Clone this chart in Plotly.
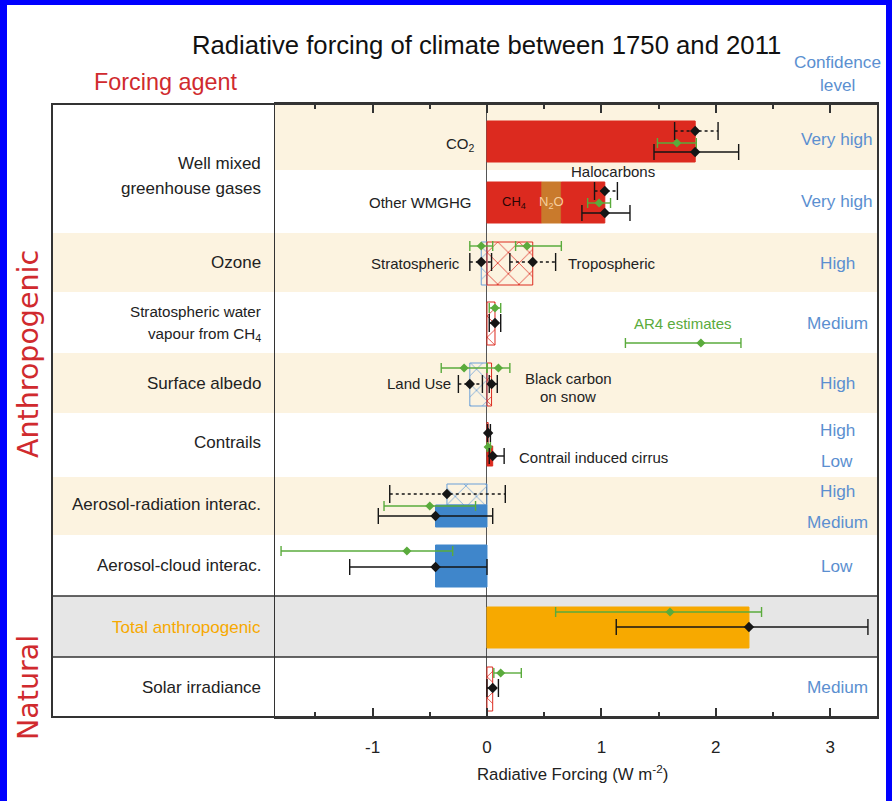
import plotly.graph_objects as go

# ---------------- forcing estimates, 1750-2011 (W m-2) ----------------
# bars: solid = effective radiative forcing (ERF), hatched = radiative forcing (RF)
bar_names = ["CO<sub>2</sub>", "CH<sub>4</sub>", "N<sub>2</sub>O", "Halocarbons",
             "Stratospheric", "Tropospheric", "Stratospheric H<sub>2</sub>O",
             "Land Use", "Black carbon on snow", "Contrails", "Contrail induced cirrus",
             "Aerosol-radiation (RF)", "Aerosol-radiation (ERF)", "Aerosol-cloud (ERF)",
             "Total anthropogenic", "Solar irradiance"]
bar_values = [1.82, 0.48, 0.17, 0.38, -0.05, 0.40, 0.07, -0.15, 0.04, 0.01, 0.05,
              -0.35, -0.45, -0.45, 2.29, 0.05]
bar_rows = [0, 1, 1, 1, 2, 2, 3, 4, 4, 5, 5, 6, 6, 7, 8, 9]
bar_hatched = [False, False, False, False, True, True, True, True, True, True, False,
               True, False, False, False, True]

# RF best estimates with 5-95% ranges (dotted black)
rf_best = [1.82, 1.03, -0.05, 0.40, 0.07, -0.15, 0.04, 0.01, -0.35, 0.05]
rf_low = [1.64, 0.94, -0.15, 0.20, 0.02, -0.25, 0.02, 0.005, -0.85, 0.00]
rf_high = [2.02, 1.14, 0.04, 0.60, 0.12, -0.04, 0.09, 0.03, 0.16, 0.10]
rf_rows = [0, 1, 2, 2, 3, 4, 4, 5, 6, 9]

# ERF best estimates with 5-95% ranges (solid black)
erf_best = [1.82, 1.03, 0.05, -0.45, -0.45, 2.29]
erf_low = [1.46, 0.83, 0.02, -0.95, -1.20, 1.13]
erf_high = [2.20, 1.25, 0.15, 0.05, 0.00, 3.33]
erf_rows = [0, 1, 5, 6, 7, 8]

# AR4 estimates (green)
ar4_best = [1.66, 0.98, -0.05, 0.35, 0.07, -0.20, 0.10, 0.01, -0.50, -0.70, 1.60, 0.12]
ar4_low = [1.49, 0.88, -0.15, 0.25, 0.02, -0.40, 0.00, 0.003, -0.90, -1.80, 0.60, 0.06]
ar4_high = [1.83, 1.08, 0.05, 0.65, 0.12, 0.00, 0.20, 0.03, -0.10, -0.30, 2.40, 0.30]
ar4_rows = [0, 1, 2, 2, 3, 4, 4, 5, 6, 7, 8, 9]

# key sample for the AR4 estimates (best, low, high)
ar4_key = [1.87, 1.21, 2.22]

# confidence level per row ("|" separates two stacked entries)
confidence = ["Very high", "Very high", "High", "Medium", "High", "High|Low",
              "High|Medium", "Low", "", "Medium"]

# axis ticks
major_ticks = [-1, 0, 1, 2, 3]
major_labels = ["-1", "0", "1", "2", "3"]
minor_ticks = [-1.5, -0.5, 0.5, 1.5, 2.5]

# ---------------- geometry and style ----------------
W, H = 892, 801
PL, PR, PT, PB = 275, 878, 104, 717          # plot area in pixels
BOX_L = 52                                    # left edge of the label column
X_RANGE = [-1.853, 3.418]
ROW_PX = (PB - PT) / 10.0
ROW_EDGES_PX = [104, 170, 233, 292, 353, 413, 477, 535, 596, 657, 717]

RED = "#dc2a1f"
BROWN = "#c97a2c"
BLUE = "#3f86cb"
HBLUE = "#6a9fd8"
ORANGE = "#f7a900"
GREEN = "#5aab3c"
BLACK = "#151515"
BEIGE = "#fcf3e0"
GREY = "#e6e6e6"
CONF = "#5b8fd0"
TITLE_RED = "#d02a2e"
SANS = "Liberation Sans, Arial, Helvetica, sans-serif"
WIDE = "DejaVu Sans, Verdana, sans-serif"

# vertical placement (pixel offsets from row middle) and heights of the marks
bar_slot = [(4.5, 41), (1, 41), (1, 41), (1, 41), (1, 43), (1, 43), (1, 43),
            (1.5, 43), (1.5, 43), (-11.5, 22), (11, 20), (-11.5, 21), (10, 22),
            (0.5, 42), (1, 41), (2, 44)]
rf_off = [-6, -10.5, -0.5, -0.5, 0.5, 1, 1, -12, -12, 1]
erf_off = [15, 11.5, 11, 10, 1.5, 0.5]
ar4_off = [6, 1.5, -16.5, -16.5, -14.5, -15, -15, 2, 0, -14.5, -14.5, -14]


def yd(py):
    return (py - PT) / ROW_PX


def row_mid(i):
    return yd((ROW_EDGES_PX[i] + ROW_EDGES_PX[i + 1]) / 2)


def row_edge(i):
    return yd(ROW_EDGES_PX[i])


def pxx(px):
    return (px - PL) / (PR - PL)


def pxy(py):
    return (PB - py) / (PB - PT)


fig = go.Figure()

# ---------------- bars ----------------
placed = []
for i, (name, val, row, hatch) in enumerate(zip(bar_names, bar_values, bar_rows, bar_hatched)):
    off, hgt = bar_slot[i]
    base = sum(v for (r, s, v) in placed if r == row and s == bar_slot[i] and (v > 0) == (val > 0))
    placed.append((row, bar_slot[i], val))
    if name == "N<sub>2</sub>O":
        col = BROWN
    elif name == "Total anthropogenic":
        col = ORANGE
    elif val < 0:
        col = HBLUE if hatch else BLUE
    else:
        col = RED
    marker = dict(color=col, line=dict(color=col, width=1))
    if hatch:
        marker["pattern"] = dict(shape="x", size=15, solidity=0.1, fgcolor=col,
                                 bgcolor="rgba(0,0,0,0)", fillmode="replace")
    fig.add_trace(go.Bar(
        x=[val], base=[base], y=[row_mid(row) + off / ROW_PX], width=[hgt / ROW_PX],
        orientation="h", marker=marker, name=name, showlegend=False,
        hovertemplate=name + ": %{x:.2f} W m<sup>-2</sup><extra></extra>"))


# ---------------- uncertainty ranges ----------------
def add_errorbars(best, low, high, rows, offs, color, dash, cap, msize, width):
    lx, ly, cx, cy, mx, my = [], [], [], [], [], []
    for b, lo, hi, r, o in zip(best, low, high, rows, offs):
        y = row_mid(r) + o / ROW_PX
        c = cap / ROW_PX
        lx += [lo, hi, None]
        ly += [y, y, None]
        cx += [lo, lo, None, hi, hi, None]
        cy += [y - c, y + c, None, y - c, y + c, None]
        mx.append(b)
        my.append(y)
    fig.add_trace(go.Scatter(x=lx, y=ly, mode="lines", hoverinfo="skip", showlegend=False,
                             line=dict(color=color, width=width, dash=dash)))
    fig.add_trace(go.Scatter(x=cx, y=cy, mode="lines", hoverinfo="skip", showlegend=False,
                             line=dict(color=color, width=width)))
    fig.add_trace(go.Scatter(x=mx, y=my, mode="markers", showlegend=False,
                             marker=dict(symbol="diamond", size=msize, color=color)))


add_errorbars(ar4_best, ar4_low, ar4_high, ar4_rows, ar4_off, GREEN, "solid", 5, 7, 1.4)
add_errorbars(rf_best, rf_low, rf_high, rf_rows, rf_off, BLACK, "dot", 9, 8, 1.4)
add_errorbars(erf_best, erf_low, erf_high, erf_rows, erf_off, BLACK, "solid", 8, 8, 1.4)
# key sample under "AR4 estimates"
add_errorbars([ar4_key[0]], [ar4_key[1]], [ar4_key[2]], [3], [20.5], GREEN, "solid", 5, 7, 1.4)

# ---------------- row shading and frame ----------------
shapes = []
full_l = pxx(BOX_L)
for i, fill in [(0, BEIGE), (2, BEIGE), (4, BEIGE), (6, BEIGE), (8, GREY)]:
    x0 = 0 if i == 0 else full_l
    shapes.append(dict(type="rect", xref="paper", yref="y", x0=x0, x1=1,
                       y0=row_edge(i), y1=row_edge(i + 1), fillcolor=fill,
                       line=dict(width=0), layer="below"))
for i in (8, 9):
    shapes.append(dict(type="line", xref="paper", yref="y", x0=full_l, x1=1,
                       y0=row_edge(i), y1=row_edge(i), line=dict(color="#333", width=1.5),
                       layer="above"))
shapes.append(dict(type="rect", xref="paper", yref="paper", x0=full_l, x1=1, y0=0, y1=1,
                   line=dict(color="#333", width=2), fillcolor="rgba(0,0,0,0)", layer="above"))
# page border
for x0, x1, y0, y1 in [(-5, 7, -5, 806), (-5, 897, -5, 5), (886, 897, -5, 806)]:
    shapes.append(dict(type="rect", xref="paper", yref="paper", x0=pxx(x0), x1=pxx(x1),
                       y0=pxy(y1), y1=pxy(y0), fillcolor="#0000ff", line=dict(width=0),
                       layer="above"))

# ---------------- text ----------------
ann = []


def txt(s, px, py, size, color="#222", xanchor="center", family=SANS, angle=0):
    ann.append(dict(text=s, x=pxx(px), y=pxy(py), xref="paper", yref="paper",
                    xanchor=xanchor, yanchor="middle", showarrow=False, textangle=angle,
                    font=dict(family=family, size=size, color=color)))


txt("Radiative forcing of climate between 1750 and 2011", 486, 45, 25.7, "#111")
txt("Forcing agent", 92, 82, 23.4, TITLE_RED, "left")
txt("Confidence", 837, 62, 17.2, CONF)
txt("level", 837, 85, 17.2, CONF)
txt("Anthropogenic", 28, 354, 28.5, TITLE_RED, family=WIDE, angle=-90)
txt("Natural", 28, 688, 28.5, TITLE_RED, family=WIDE, angle=-90)

# left column labels
txt("Well mixed", 263, 163, 17, xanchor="right")
txt("greenhouse gases", 263, 188, 17, xanchor="right")
txt("Ozone", 263, 262, 17, xanchor="right")
txt("Stratospheric water", 263, 311, 15.2, xanchor="right")
txt("vapour from CH<sub>4</sub>", 263, 334, 15.2, xanchor="right")
txt("Surface albedo", 263, 383, 17, xanchor="right")
txt("Contrails", 263, 442, 17, xanchor="right")
txt("Aerosol-radiation interac.", 263, 504, 17, xanchor="right")
txt("Aerosol-cloud interac.", 263, 565, 17, xanchor="right")
txt("Total anthropogenic", 263, 627, 17, ORANGE, xanchor="right")
txt("Solar irradiance", 263, 687, 17, xanchor="right")

# confidence column
for i, c in enumerate(confidence):
    if not c:
        continue
    mid = (ROW_EDGES_PX[i] + ROW_EDGES_PX[i + 1]) / 2
    parts = c.split("|")
    if len(parts) == 1:
        txt(parts[0], 837, mid + (2 if i == 0 else 0), 17.2, CONF)
    else:
        txt(parts[0], 837, mid - 15.5, 17.2, CONF)
        txt(parts[1], 837, mid + 15.5, 17.2, CONF)

# labels next to the bars
txt("CO<sub>2</sub>", 477, 144, 15, xanchor="right")
txt("Other WMGHG", 474, 202, 15, xanchor="right")
txt("Halocarbons", 613, 172, 15)
txt("Stratospheric", 462, 263, 15, xanchor="right")
txt("Tropospheric", 566, 263, 15, xanchor="left")
txt("AR4 estimates", 683, 323, 15, GREEN)
txt("Land Use", 453, 383, 15, xanchor="right")
txt("Black carbon", 568, 378, 15)
txt("on snow", 568, 396, 15)
txt("Contrail induced cirrus", 517, 457, 15, xanchor="left")
txt("Radiative Forcing (W m<sup>-2</sup>)", 572, 773, 16.8)

# names written inside the stacked WMGHG bar, centred on their segments
for name, col in [("CH<sub>4</sub>", "#2a0505"), ("N<sub>2</sub>O", "#f7cf9e")]:
    k = bar_names.index(name)
    base = sum(bar_values[j] for j in range(k) if bar_rows[j] == bar_rows[k])
    ann.append(dict(text=name, x=base + bar_values[k] / 2, y=row_mid(bar_rows[k]) + 1 / ROW_PX,
                    xref="x", yref="y", showarrow=False, xanchor="center", yanchor="middle",
                    font=dict(family=SANS, size=13, color=col)))

fig.update_layout(
    width=W, height=H,
    margin=dict(l=PL, r=W - PR, t=PT, b=H - PB, pad=0),
    paper_bgcolor="white", plot_bgcolor="rgba(0,0,0,0)",
    barmode="overlay", showlegend=False,
    shapes=shapes, annotations=ann,
    xaxis=dict(range=X_RANGE, tickvals=major_ticks, ticktext=major_labels,
               ticks="inside", ticklen=9, tickwidth=1.5, tickcolor="#333",
               minor=dict(tickvals=minor_ticks, ticks="inside", ticklen=5,
                          tickwidth=1.5, tickcolor="#333"),
               showline=True, linecolor="#333", linewidth=2, mirror="ticks",
               showgrid=False, zeroline=True, zerolinecolor="#555", zerolinewidth=1,
               ticklabelstandoff=14,
               tickfont=dict(family=SANS, size=17, color="#222")),
    yaxis=dict(range=[10, 0], showticklabels=False, ticks="", showgrid=False,
               zeroline=False, showline=True, linecolor="#333", linewidth=1, mirror=True),
)

fig.write_html("out.html")
